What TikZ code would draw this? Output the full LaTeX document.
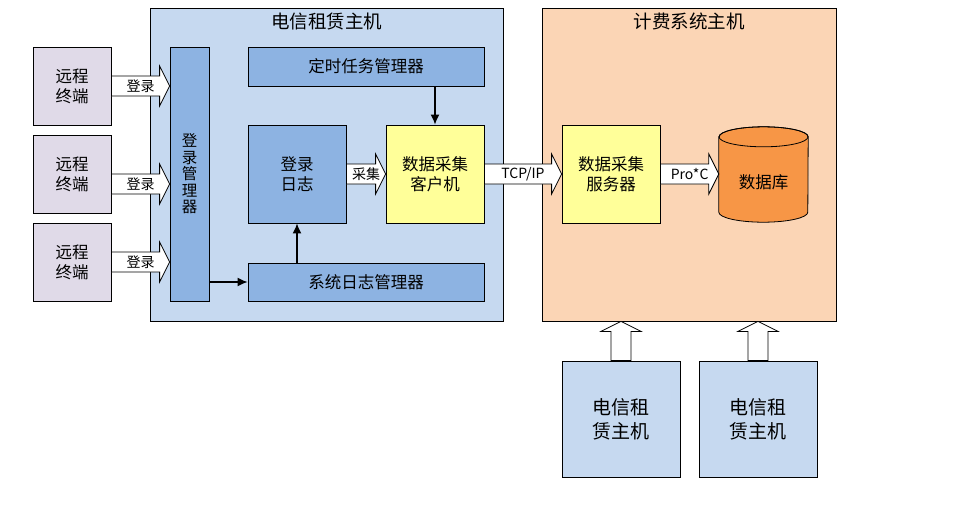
\documentclass[tikz,border=0pt]{standalone}
\usepackage{fontspec}
\setmainfont{Noto Sans CJK SC}
\usetikzlibrary{calc,arrows.meta}

\definecolor{hostblue}{HTML}{C6D9F0}
\definecolor{modblue}{HTML}{8DB3E2}
\definecolor{billpeach}{HTML}{FBD5B5}
\definecolor{clientyellow}{HTML}{FFFF99}
\definecolor{dborange}{HTML}{F79646}
\definecolor{termlilac}{HTML}{E0DAE8}

\tikzset{
  host/.style={draw, line width=0.8pt, fill=hostblue, inner sep=0pt},
  module/.style={draw, line width=0.8pt, fill=modblue, inner sep=0pt, align=center,
    font=\fontsize{16.5}{20}\selectfont},
  terminal/.style={module, fill=termlilac},
  collector/.style={module, fill=clientyellow},
  title/.style={font=\fontsize{18.5}{22}\selectfont},
  flow/.style={-{Latex[length=10pt,width=9pt]}, line width=1.5pt},
  fatlabel/.style={font=\fontsize{14}{16}\selectfont, inner sep=0pt}
}

% block arrow from #1 to #2 with label #3
\newcommand{\fatarrow}[3]{%
  \path (#1) coordinate (fa s) (#2) coordinate (fa e);
  \path ($(fa e)!10pt!(fa s)$) coordinate (fa b);
  \draw[line width=0.8pt, fill=white]
    ($(fa s)!10pt!90:(fa e)$) -- ($(fa b)!10pt!90:(fa e)$) -- ($(fa b)!20pt!90:(fa e)$)
    -- (fa e) -- ($(fa b)!20pt!-90:(fa e)$) -- ($(fa b)!10pt!-90:(fa e)$)
    -- ($(fa s)!10pt!-90:(fa e)$) -- cycle;
  \node[fatlabel] at ($(fa s)!0.5!(fa e)$) {#3};
}

\begin{document}
\begin{tikzpicture}[x=1pt, y=-1pt]
    \useasboundingbox (0,0) rectangle (954,504);

    % the two hosts
    \node[host, minimum width=353pt, minimum height=313pt] (leasehost) at (326.5,164.5) {};
    \node[title] (leasetitle) at ($(leasehost.north)+(0,14)$) {电信租赁主机};
    \node[host, fill=billpeach, minimum width=294pt, minimum height=313pt] (billhost) at (689,164.5) {};
    \node[title] (billtitle) at ($(billhost.north)+(0,14)$) {计费系统主机};

    % remote terminals
    \node[terminal, minimum width=78pt, minimum height=78pt] (term1) at (72,86) {远程\\终端};
    \node[terminal, minimum width=78pt, minimum height=78pt] (term2) at (72,174) {远程\\终端};
    \node[terminal, minimum width=78pt, minimum height=78pt] (term3) at (72,262) {远程\\终端};

    % modules of the lease host
    \node[module, minimum width=39pt, minimum height=254pt, font=\fontsize{15.5}{16.5}\selectfont]
        (loginmgr) at (189.5,174) {登\\录\\管\\理\\器};
    \node[module, minimum width=236pt, minimum height=39pt] (timer) at (366,66.5) {定时任务管理器};
    \node[module, minimum width=98pt, minimum height=98pt] (loginlog) at (297,174) {登录\\日志};
    \node[collector, minimum width=98pt, minimum height=98pt] (client) at (435,174) {数据采集\\客户机};
    \node[module, minimum width=236pt, minimum height=38pt] (syslog) at (366,282) {系统日志管理器};

    % modules of the billing host
    \node[collector, minimum width=98pt, minimum height=98pt] (server) at (611,174) {数据采集\\服务器};
    \node[inner sep=0pt, minimum width=89pt, minimum height=95pt] (db) at (763.5,174.5) {};
    \path (db.north) ++(0,10) coordinate (dbtop);
    \path (db.south) ++(0,-10) coordinate (dbbot);
    \draw[line width=0.8pt, fill=dborange] (dbtop -| db.west) -- (dbbot -| db.west)
        arc[start angle=180, end angle=360, x radius=44.5pt, y radius=10pt]
        -- (dbtop -| db.east)
        arc[start angle=0, end angle=180, x radius=44.5pt, y radius=10pt] -- cycle;
    \draw[line width=0.8pt] (dbtop) ellipse[x radius=44.5pt, y radius=10pt];
    \node[font=\fontsize{16.5}{20}\selectfont] (dblabel) at ($(db.center)+(0,8)$) {数据库};

    % other lease hosts
    \node[host, minimum width=118pt, minimum height=116pt, align=center,
        font=\fontsize{19}{24}\selectfont] (lease1) at (621,419) {电信租\\赁主机};
    \node[host, minimum width=118pt, minimum height=116pt, align=center,
        font=\fontsize{19}{24}\selectfont] (lease2) at (758,419) {电信租\\赁主机};

    % block arrows
    \coordinate (term2out) at ($(term2.east)+(0,10)$);
    \fatarrow{term1.east}{loginmgr.west |- term1.east}{登录}
    \fatarrow{term2out}{loginmgr.west |- term2out}{登录}
    \fatarrow{term3.east}{loginmgr.west |- term3.east}{登录}
    \fatarrow{loginlog.east}{client.west}{采集}
    \fatarrow{client.east}{server.west}{TCP/IP}
    \fatarrow{server.east}{db.west |- server.east}{Pro*C}
    \fatarrow{lease1.north}{billhost.south -| lease1.north}{}
    \fatarrow{lease2.north}{billhost.south -| lease2.north}{}

    % plain arrows
    \draw[flow] (timer.south -| client.north) -- (client.north);
    \draw[flow] (syslog.north -| loginlog.south) -- (loginlog.south);
    \draw[flow] (loginmgr.east |- syslog.west) -- (syslog.west);
\end{tikzpicture}
\end{document}
